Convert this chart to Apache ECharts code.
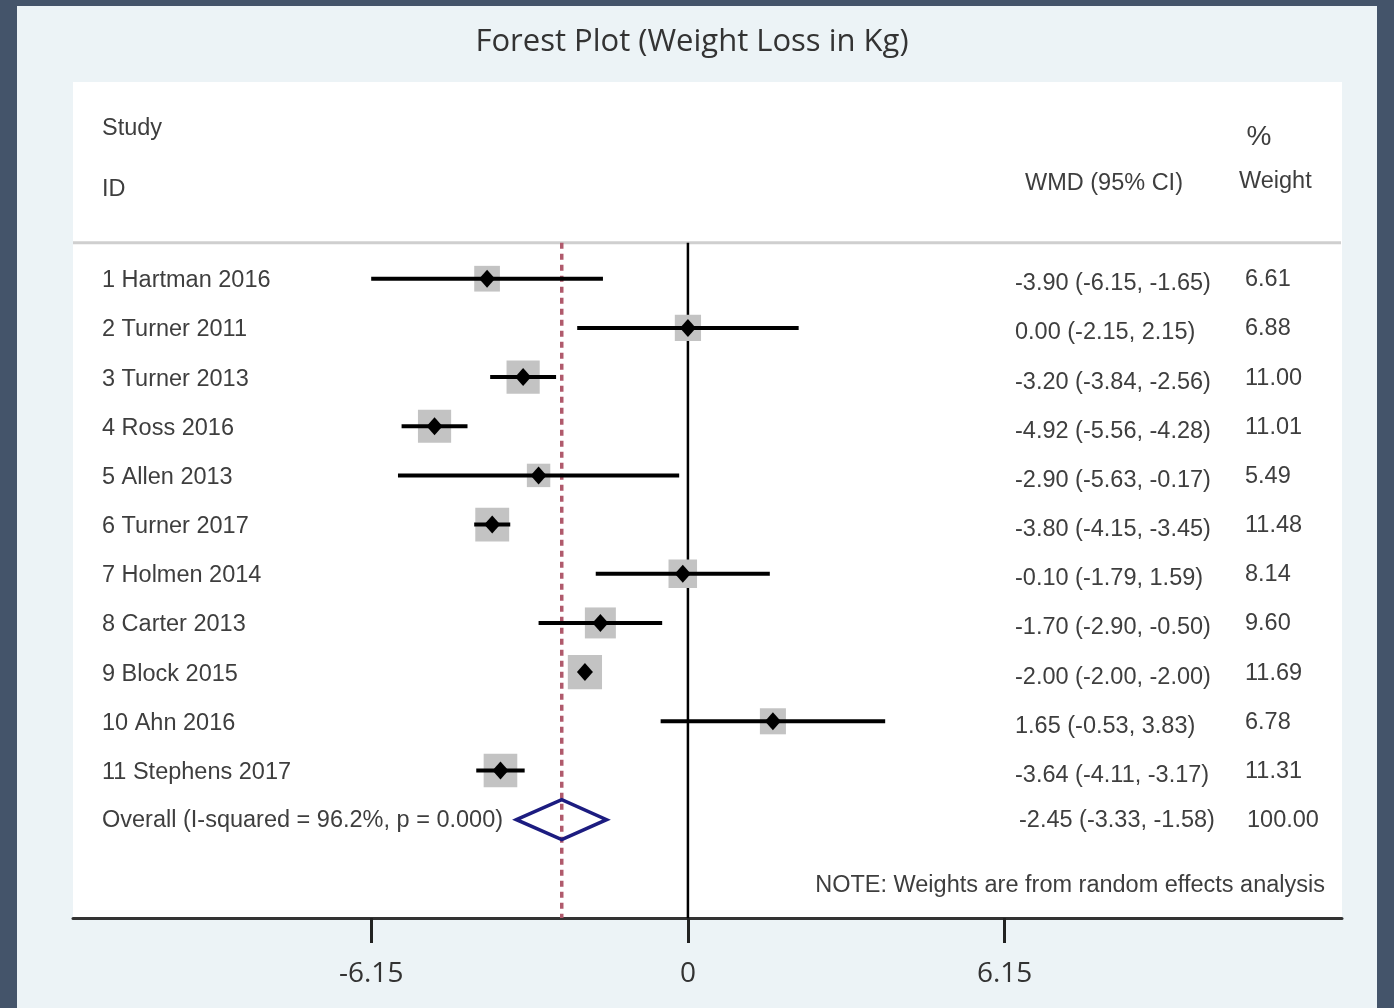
<!DOCTYPE html>
<html lang="en">
<head>
    <meta charset="UTF-8">
    <title>Forest Plot</title>
    <script src="https://cdn.jsdelivr.net/npm/echarts@6/dist/echarts.min.js"></script>
    <style>
        html, body { margin: 0; padding: 0; background: #44546a; }
        #frame {
            position: absolute; left: 17px; top: 6px;
            width: 1360px; height: 1002px; background: #ecf3f6;
        }
        #main { position: absolute; left: 0; top: 0; width: 1394px; height: 1008px; }
    </style>
</head>
<body>
<div id="frame"></div>
<div id="main"></div>
<script>
// study data (WMD, 95% CI, % weight)
var studies = ['1 Hartman 2016', '2 Turner 2011', '3 Turner 2013', '4 Ross 2016', '5 Allen 2013',
    '6 Turner 2017', '7 Holmen 2014', '8 Carter 2013', '9 Block 2015', '10 Ahn 2016', '11 Stephens 2017'];
var wmd    = [-3.90, 0.00, -3.20, -4.92, -2.90, -3.80, -0.10, -1.70, -2.00, 1.65, -3.64];
var lower  = [-6.15, -2.15, -3.84, -5.56, -5.63, -4.15, -1.79, -2.90, -2.00, -0.53, -4.11];
var upper  = [-1.65, 2.15, -2.56, -4.28, -0.17, -3.45, 1.59, -0.50, -2.00, 3.83, -3.17];
var weights = [6.61, 6.88, 11.00, 11.01, 5.49, 11.48, 8.14, 9.60, 11.69, 6.78, 11.31];

// pooled estimate
var overallLabel = 'Overall (I-squared = 96.2%, p = 0.000)';
var overall = [-2.45, -3.33, -1.58];   // est, lower, upper
var overallWeight = 100.00;

var tickValues = [-6.15, 0, 6.15];
var note = 'NOTE: Weights are from random effects analysis';

var textFont = 'Liberation Sans, Arial, sans-serif';
var textColor = '#3e3e3e';
var fontPx = '23.5px ';
var colWmd = 1015, colWeight = 1245, colStudy = 102;

function ciText(e, l, h) {
    return e.toFixed(2) + ' (' + l.toFixed(2) + ', ' + h.toFixed(2) + ')';
}

// rows: study i sits on row i+1, overall on row n+1
var studyData = studies.map(function (s, i) {
    return [i + 1, wmd[i], lower[i], upper[i], weights[i]];
});
var sepRow = 0.27;
var yMin = -3, yMax = 14;

function txt(x, y, s, opt) {
    return Object.assign({
        type: 'text', x: x, y: y,
        style: { text: s, fill: textColor, font: fontPx + textFont, verticalAlign: 'middle', align: 'left' }
    }, opt || {});
}

function renderStudy(params, api) {
    var row = api.value(0);
    var p = api.coord([api.value(1), row]);
    var pl = api.coord([api.value(2), row]);
    var ph = api.coord([api.value(3), row]);
    var s = 10 * Math.sqrt(api.value(4));
    var i = params.dataIndex;
    var y = p[1];
    return {
        type: 'group',
        children: [
            { type: 'rect', shape: { x: p[0] - s / 2, y: y - s / 2, width: s, height: s }, style: { fill: '#c3c3c3' } },
            { type: 'line', shape: { x1: pl[0], y1: y, x2: ph[0], y2: y }, style: { stroke: '#000', lineWidth: 4 } },
            { type: 'polygon', shape: { points: [[p[0] - 8, y], [p[0], y - 9], [p[0] + 8, y], [p[0], y + 9]] }, style: { fill: '#000' } },
            txt(colStudy, y + 2, studies[i]),
            txt(colWmd, y + 5, ciText(wmd[i], lower[i], upper[i])),
            txt(colWeight, y + 1, weights[i].toFixed(2))
        ]
    };
}

function renderOverall(params, api) {
    var row = api.value(0);
    var p = api.coord([api.value(1), row]);
    var pl = api.coord([api.value(2), row]);
    var ph = api.coord([api.value(3), row]);
    var y = p[1];
    return {
        type: 'group',
        children: [
            { type: 'polygon', shape: { points: [[pl[0], y], [p[0], y - 20], [ph[0], y], [p[0], y + 20]] },
              style: { fill: 'none', stroke: '#1c1c80', lineWidth: 3.5 } },
            txt(colStudy, y + 1, overallLabel),
            txt(colWmd + 4, y + 1, ciText(overall[0], overall[1], overall[2])),
            txt(colWeight + 2, y + 1, overallWeight.toFixed(2))
        ]
    };
}

var myChart = echarts.init(document.getElementById('main'));

var option = {
    backgroundColor: 'transparent',
    animation: false,
    title: {
        text: 'Forest Plot (Weight Loss in Kg)',
        left: 692, top: 27, textAlign: 'center', padding: 0,
        textStyle: { fontFamily: 'Open Sans', fontSize: 31, fontWeight: 'normal', color: '#333' }
    },
    grid: {
        left: 73, right: 52, top: 82, bottom: 90,
        show: true, backgroundColor: '#fff', borderWidth: 0
    },
    xAxis: {
        type: 'value', min: -11.94, max: 12.70,
        axisLine: { onZero: false, lineStyle: { color: '#333', width: 3 } },
        axisTick: { customValues: tickValues, length: 25, lineStyle: { color: '#222', width: 3 } },
        axisLabel: {
            customValues: tickValues, margin: 42,
            fontFamily: 'Open Sans', fontSize: 28, color: '#333',
            formatter: function (v) { return v === 0 ? '0' : v.toFixed(2); }
        },
        splitLine: { show: false }
    },
    yAxis: {
        type: 'value', min: yMin, max: yMax, inverse: true, show: false
    },
    graphic: [
        { type: 'line', shape: { x1: 73, y1: 0, x2: 1341, y2: 0 }, y: 82 + (sepRow - yMin) * 836 / 17,
          style: { stroke: '#cfcfcf', lineWidth: 3 }, z: 1 },
        txt(colStudy, 129, 'Study', { z: 10 }),
        txt(colStudy, 190, 'ID', { z: 10 }),
        txt(1025, 184, 'WMD (95% CI)', { z: 10 }),
        txt(1259, 137, '%', { z: 10, style: { text: '%', fill: textColor, font: '28px ' + textFont, verticalAlign: 'middle', align: 'center' } }),
        txt(1239, 182, 'Weight', { z: 10 }),
        txt(1325, 886, note, { z: 10, style: { text: note, fill: textColor, font: fontPx + textFont, verticalAlign: 'middle', align: 'right' } })
    ],
    series: [
        {
            type: 'line', data: [[0, sepRow], [0, yMax]], symbol: 'none', z: 2,
            lineStyle: { color: '#000', width: 2.5 }
        },
        {
            type: 'line', data: [[overall[0], sepRow], [overall[0], yMax]], symbol: 'none', z: 2,
            lineStyle: { color: '#b05a6c', width: 3.5, type: [6, 5] }
        },
        {
            type: 'custom', renderItem: renderStudy, data: studyData, z: 5,
            encode: { x: [1, 2, 3], y: 0 }
        },
        {
            type: 'custom', renderItem: renderOverall, z: 5,
            data: [[studies.length + 1, overall[0], overall[1], overall[2]]],
            encode: { x: [1, 2, 3], y: 0 }
        }
    ]
};

myChart.setOption(option);
</script>
</body>
</html>
